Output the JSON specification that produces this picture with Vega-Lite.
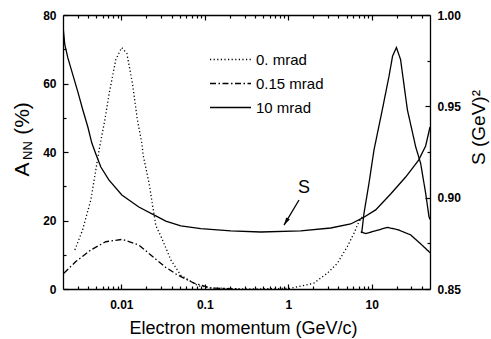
{
  "$schema": "https://vega.github.io/schema/vega-lite/v6.json",
  "width": 367,
  "height": 274,
  "autosize": {"type": "none"},
  "padding": {"left": 63, "top": 15, "right": 61, "bottom": 50},
  "background": "white",
  "config": {
    "view": {"stroke": null},
    "font": "Liberation Sans",
    "axis": {
      "domainColor": "black",
      "domainWidth": 1.3,
      "tickColor": "black",
      "tickWidth": 1.2,
      "labelColor": "black",
      "titleColor": "black",
      "labelFont": "Liberation Sans",
      "titleFont": "Liberation Sans",
      "labelFontWeight": "bold",
      "labelFontSize": 12,
      "titleFontWeight": "normal",
      "grid": false,
      "labelFlush": false,
      "labelOverlap": false
    },
    "legend": {
      "labelFont": "Liberation Sans",
      "labelColor": "black",
      "symbolStrokeColor": "black"
    }
  },
  "datasets": {
    "curves": [
      {"s": "0. mrad", "g": "a", "p": 0.002773, "a": 11.4},
      {"s": "0. mrad", "g": "a", "p": 0.00343, "a": 17.2},
      {"s": "0. mrad", "g": "a", "p": 0.00431, "a": 26.0},
      {"s": "0. mrad", "g": "a", "p": 0.00542, "a": 40.6},
      {"s": "0. mrad", "g": "a", "p": 0.00634, "a": 49.3},
      {"s": "0. mrad", "g": "a", "p": 0.00714, "a": 57.0},
      {"s": "0. mrad", "g": "a", "p": 0.00859, "a": 67.0},
      {"s": "0. mrad", "g": "a", "p": 0.0101, "a": 70.5},
      {"s": "0. mrad", "g": "a", "p": 0.01164, "a": 68.8},
      {"s": "0. mrad", "g": "a", "p": 0.0136, "a": 60.0},
      {"s": "0. mrad", "g": "a", "p": 0.0156, "a": 49.3},
      {"s": "0. mrad", "g": "a", "p": 0.0176, "a": 42.6},
      {"s": "0. mrad", "g": "a", "p": 0.0183, "a": 39.0},
      {"s": "0. mrad", "g": "a", "p": 0.0215, "a": 30.9},
      {"s": "0. mrad", "g": "a", "p": 0.0259, "a": 18.5},
      {"s": "0. mrad", "g": "a", "p": 0.0297, "a": 15.5},
      {"s": "0. mrad", "g": "a", "p": 0.0392, "a": 8.5},
      {"s": "0. mrad", "g": "a", "p": 0.0516, "a": 4.0},
      {"s": "0. mrad", "g": "a", "p": 0.0824, "a": 1.0},
      {"s": "0. mrad", "g": "a", "p": 0.118, "a": 0.3},
      {"s": "0. mrad", "g": "a", "p": 0.356, "a": 0.0},
      {"s": "0. mrad", "g": "a", "p": 1.07, "a": 0.2},
      {"s": "0. mrad", "g": "a", "p": 2.02, "a": 1.7},
      {"s": "0. mrad", "g": "a", "p": 2.94, "a": 4.6},
      {"s": "0. mrad", "g": "a", "p": 3.88, "a": 7.5},
      {"s": "0. mrad", "g": "a", "p": 5.11, "a": 12.4},
      {"s": "0. mrad", "g": "a", "p": 6.14, "a": 16.3},
      {"s": "0. mrad", "g": "a", "p": 7.05, "a": 19.7},
      {"s": "0. mrad", "g": "a", "p": 7.74, "a": 21.1},
      {"s": "0.15 mrad", "g": "b", "p": 0.00205, "a": 4.6},
      {"s": "0.15 mrad", "g": "b", "p": 0.00285, "a": 8.0},
      {"s": "0.15 mrad", "g": "b", "p": 0.00431, "a": 11.4},
      {"s": "0.15 mrad", "g": "b", "p": 0.00651, "a": 13.8},
      {"s": "0.15 mrad", "g": "b", "p": 0.0103, "a": 14.5},
      {"s": "0.15 mrad", "g": "b", "p": 0.0163, "a": 12.8},
      {"s": "0.15 mrad", "g": "b", "p": 0.0259, "a": 8.7},
      {"s": "0.15 mrad", "g": "b", "p": 0.0341, "a": 6.3},
      {"s": "0.15 mrad", "g": "b", "p": 0.0471, "a": 4.1},
      {"s": "0.15 mrad", "g": "b", "p": 0.0745, "a": 1.7},
      {"s": "0.15 mrad", "g": "b", "p": 0.118, "a": 0.3},
      {"s": "0.15 mrad", "g": "b", "p": 0.25, "a": 0.0},
      {"s": "10 mrad", "g": "c", "p": 7.59, "a": 16.3},
      {"s": "10 mrad", "g": "c", "p": 8.09, "a": 22.1},
      {"s": "10 mrad", "g": "c", "p": 9.29, "a": 30.9},
      {"s": "10 mrad", "g": "c", "p": 10.66, "a": 40.6},
      {"s": "10 mrad", "g": "c", "p": 13.4, "a": 52.3},
      {"s": "10 mrad", "g": "c", "p": 16.1, "a": 62.0},
      {"s": "10 mrad", "g": "c", "p": 17.8, "a": 68.0},
      {"s": "10 mrad", "g": "c", "p": 19.8, "a": 70.5},
      {"s": "10 mrad", "g": "c", "p": 22.2, "a": 67.0},
      {"s": "10 mrad", "g": "c", "p": 26.8, "a": 52.3},
      {"s": "10 mrad", "g": "c", "p": 33.7, "a": 41.5},
      {"s": "10 mrad", "g": "c", "p": 38.6, "a": 36.7},
      {"s": "10 mrad", "g": "c", "p": 44.4, "a": 27.9},
      {"s": "10 mrad", "g": "c", "p": 48.6, "a": 21.1},
      {"s": "10 mrad", "g": "c", "p": 50, "a": 20.3},
      {"s": "10 mrad", "g": "d", "p": 7.39, "a": 16.7},
      {"s": "10 mrad", "g": "d", "p": 8.48, "a": 16.2},
      {"s": "10 mrad", "g": "d", "p": 11.17, "a": 17.0},
      {"s": "10 mrad", "g": "d", "p": 15.4, "a": 18.0},
      {"s": "10 mrad", "g": "d", "p": 20.7, "a": 17.3},
      {"s": "10 mrad", "g": "d", "p": 29.3, "a": 15.8},
      {"s": "10 mrad", "g": "d", "p": 38.6, "a": 13.2},
      {"s": "10 mrad", "g": "d", "p": 48.6, "a": 10.9},
      {"s": "10 mrad", "g": "d", "p": 50, "a": 10.6}
    ],
    "sCurve": [
      {"p": 0.00202, "S": 0.9918},
      {"p": 0.002105, "S": 0.9836},
      {"p": 0.002287, "S": 0.9765},
      {"p": 0.002625, "S": 0.9672},
      {"p": 0.003013, "S": 0.9579},
      {"p": 0.003458, "S": 0.9480},
      {"p": 0.00397, "S": 0.9387},
      {"p": 0.004432, "S": 0.9299},
      {"p": 0.004949, "S": 0.9239},
      {"p": 0.005682, "S": 0.9168},
      {"p": 0.007087, "S": 0.9097},
      {"p": 0.010138, "S": 0.9015},
      {"p": 0.016207, "S": 0.8949},
      {"p": 0.025882, "S": 0.8900},
      {"p": 0.034102, "S": 0.8872},
      {"p": 0.051594, "S": 0.8845},
      {"p": 0.089536, "S": 0.8831},
      {"p": 0.20483, "S": 0.8818},
      {"p": 0.46857, "S": 0.8812},
      {"p": 1.4113, "S": 0.8818},
      {"p": 3.2285, "S": 0.8834},
      {"p": 5.604, "S": 0.8856},
      {"p": 7.8033, "S": 0.8889},
      {"p": 11.167, "S": 0.8933},
      {"p": 16.886, "S": 0.9020},
      {"p": 25.539, "S": 0.9113},
      {"p": 36.549, "S": 0.9206},
      {"p": 44.34, "S": 0.9283},
      {"p": 50, "S": 0.9387}
    ],
    "note": [
      {"p": 1.346, "S": 0.8987, "p2": 0.891, "S2": 0.885, "tp": 1.545, "tS": 0.9052, "t": "S"}
    ]
  },
  "layer": [
    {
      "data": {"name": "curves"},
      "mark": {"type": "line", "color": "black", "strokeWidth": 1.3, "clip": true},
      "encoding": {
        "x": {
          "field": "p", "type": "quantitative",
          "scale": {"type": "log", "domain": [0.002, 50], "nice": false},
          "axis": {
            "orient": "bottom", "values": [0.01, 0.1, 1, 10], "format": "~g",
            "tickSize": -5, "labelPadding": 15,
            "title": "Electron momentum (GeV/c)", "titleFontSize": 18,
            "titleX": 180, "titleY": 44, "titleBaseline": "alphabetic", "titleAlign": "center"
          }
        },
        "y": {
          "field": "a", "type": "quantitative",
          "scale": {"domain": [0, 80], "nice": false, "zero": false},
          "axis": {
            "orient": "left", "values": [0, 20, 40, 60, 80], "format": "d",
            "tickSize": -5, "labelPadding": 12,
            "title": "A", "titleFontSize": 21, "titleAngle": 270,
            "titleX": -35, "titleY": 154, "titleAlign": "center", "titleBaseline": "alphabetic"
          }
        },
        "strokeDash": {
          "field": "s", "type": "nominal",
          "scale": {
            "domain": ["0. mrad", "0.15 mrad", "10 mrad"],
            "range": [[1.2, 2.4], [6, 2.5, 1.5, 2.5], [1, 0]]
          },
          "legend": {
            "orient": "none", "legendX": 146, "legendY": 37, "title": null,
            "symbolType": "stroke", "symbolSize": 1681, "symbolStrokeWidth": 1.3,
            "clipHeight": 15,
            "labelFontSize": 15, "labelOffset": 4, "rowPadding": 8, "padding": 0
          }
        },
        "detail": {"field": "g", "type": "nominal"}
      }
    },
    {
      "data": {"name": "curves"},
      "mark": {"type": "point", "opacity": 0},
      "encoding": {
        "x": {
          "field": "p", "type": "quantitative",
          "scale": {"type": "log", "domain": [0.002, 50], "nice": false},
          "axis": {
            "orient": "bottom", "domain": false, "labels": false, "tickSize": -3, "title": null,
            "values": [0.003, 0.004, 0.005, 0.006, 0.007, 0.008, 0.009, 0.02, 0.03, 0.04, 0.05, 0.06, 0.07, 0.08, 0.09, 0.2, 0.3, 0.4, 0.5, 0.6, 0.7, 0.8, 0.9, 2, 3, 4, 5, 6, 7, 8, 9, 20, 30, 40]
          }
        },
        "y": {
          "field": "a", "type": "quantitative",
          "scale": {"domain": [0, 80], "nice": false, "zero": false},
          "axis": {
            "orient": "left", "domain": false, "labels": false, "tickSize": -3,
            "values": [10, 30, 50, 70],
            "title": "NN", "titleFontSize": 13, "titleAngle": 270,
            "titleX": -32, "titleY": 135, "titleAlign": "center", "titleBaseline": "alphabetic"
          }
        }
      }
    },
    {
      "data": {"name": "curves"},
      "mark": {"type": "point", "opacity": 0},
      "encoding": {
        "x": {
          "field": "p", "type": "quantitative",
          "scale": {"type": "log", "domain": [0.002, 50], "nice": false},
          "axis": null
        },
        "y": {
          "field": "a", "type": "quantitative",
          "scale": {"domain": [0, 80], "nice": false, "zero": false},
          "axis": {
            "orient": "left", "domain": false, "labels": false, "ticks": false, "values": [],
            "title": "(%)", "titleFontSize": 21, "titleAngle": 270,
            "titleX": -35, "titleY": 103, "titleAlign": "center", "titleBaseline": "alphabetic"
          }
        }
      }
    },
    {
      "data": {"name": "sCurve"},
      "mark": {"type": "line", "color": "black", "strokeWidth": 1.3, "clip": true},
      "encoding": {
        "x": {
          "field": "p", "type": "quantitative",
          "scale": {"type": "log", "domain": [0.002, 50], "nice": false},
          "axis": {"orient": "top", "values": [0.01, 0.1, 1, 10], "labels": false, "tickSize": -5, "title": null}
        },
        "y": {
          "field": "S", "type": "quantitative",
          "scale": {"domain": [0.85, 1.0], "nice": false, "zero": false},
          "axis": {
            "orient": "right", "values": [0.85, 0.9, 0.95, 1.0], "format": ".2f",
            "tickSize": -5, "labelPadding": 12,
            "title": "S (GeV)²", "titleFontSize": 19, "titleAngle": 270,
            "titleX": 54, "titleY": 112, "titleAlign": "center", "titleBaseline": "alphabetic"
          }
        }
      }
    },
    {
      "data": {"name": "sCurve"},
      "mark": {"type": "point", "opacity": 0},
      "encoding": {
        "x": {
          "field": "p", "type": "quantitative",
          "scale": {"type": "log", "domain": [0.002, 50], "nice": false},
          "axis": {
            "orient": "top", "domain": false, "labels": false, "tickSize": -3, "title": null,
            "values": [0.003, 0.004, 0.005, 0.006, 0.007, 0.008, 0.009, 0.02, 0.03, 0.04, 0.05, 0.06, 0.07, 0.08, 0.09, 0.2, 0.3, 0.4, 0.5, 0.6, 0.7, 0.8, 0.9, 2, 3, 4, 5, 6, 7, 8, 9, 20, 30, 40]
          }
        },
        "y": {
          "field": "S", "type": "quantitative",
          "scale": {"domain": [0.85, 1.0], "nice": false, "zero": false},
          "axis": {"orient": "right", "domain": false, "labels": false, "tickSize": -3, "values": [0.875, 0.925, 0.975], "title": null}
        }
      }
    },
    {
      "data": {"name": "note"},
      "mark": {"type": "rule", "color": "black", "strokeWidth": 1.3},
      "encoding": {
        "x": {"field": "p", "type": "quantitative", "scale": {"type": "log", "domain": [0.002, 50], "nice": false}, "axis": null},
        "y": {"field": "S", "type": "quantitative", "scale": {"domain": [0.85, 1.0], "nice": false, "zero": false}, "axis": null},
        "x2": {"field": "p2"},
        "y2": {"field": "S2"}
      }
    },
    {
      "data": {"name": "note"},
      "mark": {"type": "point", "filled": true, "color": "black", "opacity": 1, "size": 49, "angle": 211, "shape": "M0,0 L-0.6,2.2 L0.6,2.2 Z"},
      "encoding": {
        "x": {"field": "p2", "type": "quantitative", "scale": {"type": "log", "domain": [0.002, 50], "nice": false}, "axis": null},
        "y": {"field": "S2", "type": "quantitative", "scale": {"domain": [0.85, 1.0], "nice": false, "zero": false}, "axis": null}
      }
    },
    {
      "data": {"name": "note"},
      "mark": {"type": "text", "color": "black", "fontSize": 18, "font": "Liberation Sans", "align": "center", "baseline": "middle"},
      "encoding": {
        "x": {"field": "tp", "type": "quantitative", "scale": {"type": "log", "domain": [0.002, 50], "nice": false}, "axis": null},
        "y": {"field": "tS", "type": "quantitative", "scale": {"domain": [0.85, 1.0], "nice": false, "zero": false}, "axis": null},
        "text": {"field": "t"}
      }
    }
  ],
  "resolve": {"scale": {"y": "independent"}, "axis": {"x": "independent", "y": "independent"}}
}
